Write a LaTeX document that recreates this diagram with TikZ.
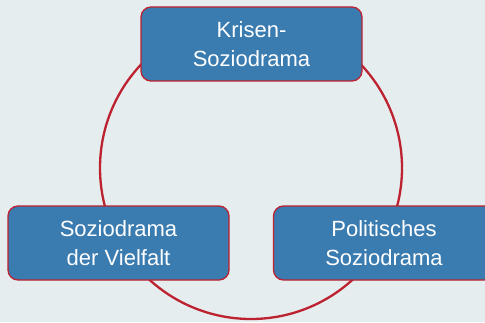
\documentclass[tikz,border=0pt]{standalone}
\usepackage{fontspec}
\setmainfont{Liberation Sans}
\usepackage{tikz}
\usetikzlibrary{positioning}
\definecolor{cback}{HTML}{E6EDEF}
\definecolor{cbox}{HTML}{3A7BB0}
\definecolor{cring}{HTML}{BC2230}
\tikzset{
  dramabox/.style={draw=cring, line width=1.3pt, rounded corners=10pt, fill=cbox, text=white,
    minimum width=221pt, minimum height=74pt, inner sep=2pt, align=center,
    font=\fontsize{22}{29}\selectfont},
  ring/.style={draw=cring, line width=2.3pt},
}
\begin{document}
\begin{tikzpicture}[x=1pt,y=1pt]
\fill[cback] (0,0) rectangle (485,322);
\clip (0,0) rectangle (485,322);
% circle behind the three boxes
\coordinate (mid) at (251,154);
\draw[ring] (mid) circle[radius=151pt];
% the three forms
\node[dramabox] (krise) at (251.5,278) {Krisen-\\Soziodrama};
\node[dramabox] (vielfalt) at (118.5,79) {Soziodrama\\der Vielfalt};
\node[dramabox] (politik) at (384,79) {Politisches\\Soziodrama};
\end{tikzpicture}
\end{document}
